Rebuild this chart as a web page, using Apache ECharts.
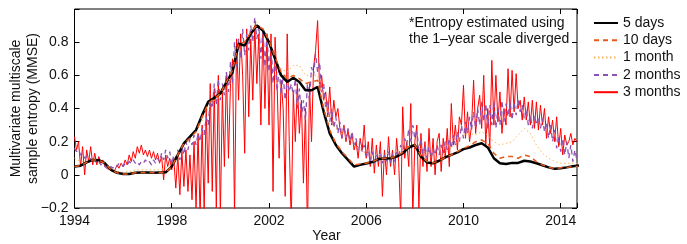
<!DOCTYPE html>
<html>
<head>
<meta charset="utf-8">
<script src="https://cdn.jsdelivr.net/npm/echarts@6/dist/echarts.min.js"></script>
<style>
  html, body { margin: 0; padding: 0; background: #fff; }
  #main { width: 687px; height: 244px; }
</style>
</head>
<body>
<div id="main"></div>
<script>
// quarterly samples for the smooth scales, monthly for the noisy ones
var QSTART = 1994, QSTEP = 0.25;
var MSTART = 1994, MSTEP = 1 / 12;

var fiveDays = [
  0.05, 0.055, 0.075, 0.09, 0.088, 0.07, 0.03, 0.012,
  0.005, 0.005, 0.012, 0.014, 0.014, 0.013, 0.014, 0.015,
  0.05, 0.12, 0.19, 0.23, 0.27, 0.36, 0.44, 0.465,
  0.49, 0.56, 0.62, 0.79, 0.78, 0.85, 0.90, 0.87,
  0.80, 0.70, 0.60, 0.56, 0.585, 0.56, 0.51, 0.51,
  0.53, 0.38, 0.25, 0.18, 0.13, 0.09, 0.05, 0.06,
  0.068, 0.077, 0.095, 0.098, 0.10, 0.11, 0.13, 0.165,
  0.18, 0.11, 0.075, 0.07, 0.085, 0.105, 0.12, 0.135,
  0.155, 0.165, 0.18, 0.19, 0.165, 0.10, 0.07, 0.065,
  0.072, 0.072, 0.085, 0.08, 0.07, 0.058, 0.045, 0.036,
  0.04, 0.045, 0.052, 0.056
];
var tenDays = [
  0.05, 0.055, 0.075, 0.09, 0.088, 0.07, 0.03, 0.012,
  0.005, 0.005, 0.012, 0.014, 0.014, 0.013, 0.014, 0.015,
  0.05, 0.12, 0.19, 0.22, 0.26, 0.35, 0.43, 0.46,
  0.49, 0.56, 0.63, 0.79, 0.80, 0.86, 0.90, 0.88,
  0.81, 0.71, 0.62, 0.58, 0.60, 0.58, 0.55, 0.56,
  0.57, 0.40, 0.27, 0.19, 0.14, 0.10, 0.06, 0.065,
  0.07, 0.08, 0.095, 0.10, 0.10, 0.115, 0.135, 0.17,
  0.18, 0.115, 0.08, 0.072, 0.085, 0.105, 0.12, 0.14,
  0.16, 0.175, 0.20, 0.21, 0.19, 0.13, 0.10, 0.11,
  0.11, 0.10, 0.12, 0.11, 0.08, 0.06, 0.045, 0.038,
  0.042, 0.045, 0.05, 0.05
];
var oneMonth = [
  0.10, 0.08, 0.08, 0.09, 0.09, 0.07, 0.04, 0.02,
  0.015, 0.02, 0.03, 0.03, 0.03, 0.03, 0.03, 0.04,
  0.07, 0.12, 0.18, 0.22, 0.26, 0.33, 0.40, 0.45,
  0.47, 0.55, 0.65, 0.78, 0.80, 0.88, 0.92, 0.86,
  0.78, 0.70, 0.64, 0.62, 0.66, 0.66, 0.60, 0.60,
  0.60, 0.45, 0.33, 0.28, 0.25, 0.22, 0.18, 0.15,
  0.13, 0.12, 0.12, 0.13, 0.13, 0.14, 0.17, 0.20,
  0.22, 0.16, 0.12, 0.10, 0.11, 0.13, 0.16, 0.20,
  0.24, 0.25, 0.24, 0.26, 0.24, 0.20, 0.18, 0.19,
  0.20, 0.24, 0.28, 0.25, 0.18, 0.13, 0.10, 0.08,
  0.07, 0.07, 0.07, 0.07
];
var twoMonths = [
  0.16, 0.14, 0.15, 0.12, 0.13, 0.10, 0.11, 0.08, 0.10, 0.08, 0.09, 0.07,
  0.08, 0.06, 0.07, 0.05, 0.04, 0.03, 0.05, 0.04, 0.06, 0.05, 0.07, 0.06,
  0.05, 0.07, 0.06, 0.08, 0.07, 0.09, 0.07, 0.08, 0.06, 0.08, 0.07, 0.09,
  0.07, 0.08, 0.06, 0.09, 0.07, 0.10, 0.08, 0.13, 0.09, 0.15, 0.10, 0.14,
  0.06, 0.12, 0.10, 0.15, 0.09, 0.17, 0.12, 0.20, 0.15, 0.22, 0.18, 0.24,
  0.18, 0.25, 0.20, 0.28, 0.24, 0.35, 0.30, 0.45, 0.40, 0.55, 0.42, 0.58,
  0.45, 0.55, 0.48, 0.62, 0.50, 0.68, 0.55, 0.80, 0.65, 0.82, 0.70, 0.88,
  0.72, 0.85, 0.75, 0.90, 0.80, 0.95, 0.82, 0.90, 0.70, 0.88, 0.65, 0.85,
  0.62, 0.80, 0.55, 0.72, 0.50, 0.65, 0.48, 0.60, 0.45, 0.58, 0.50, 0.55,
  0.48, 0.58, 0.40, 0.52, 0.35, 0.45, 0.33, 0.55, 0.45, 0.65, 0.60, 0.73,
  0.62, 0.68, 0.50, 0.55, 0.40, 0.45, 0.32, 0.40, 0.28, 0.35, 0.25, 0.32,
  0.22, 0.30, 0.22, 0.28, 0.20, 0.26, 0.18, 0.22, 0.15, 0.20, 0.14, 0.18,
  0.10, 0.15, 0.08, 0.14, 0.07, 0.12, 0.08, 0.13, 0.07, 0.12, 0.08, 0.14,
  0.07, 0.13, 0.08, 0.15, 0.10, 0.18, 0.12, 0.22, 0.18, 0.28, 0.20, 0.30,
  0.22, 0.26, 0.15, 0.22, 0.12, 0.18, 0.10, 0.17, 0.10, 0.16, 0.12, 0.18,
  0.12, 0.18, 0.13, 0.20, 0.15, 0.22, 0.16, 0.24, 0.18, 0.26, 0.20, 0.30,
  0.22, 0.32, 0.25, 0.35, 0.27, 0.38, 0.28, 0.40, 0.30, 0.44, 0.32, 0.43,
  0.28, 0.42, 0.30, 0.44, 0.28, 0.40, 0.30, 0.45, 0.32, 0.43, 0.35, 0.45,
  0.33, 0.44, 0.36, 0.45, 0.38, 0.42, 0.34, 0.40, 0.30, 0.36, 0.28, 0.36,
  0.30, 0.35, 0.28, 0.34, 0.26, 0.32, 0.22, 0.30, 0.20, 0.27, 0.16, 0.23,
  0.14, 0.22, 0.12, 0.20, 0.10, 0.18, 0.08, 0.15, 0.09
];
var threeMonths = [
  0.23, 0.15, 0.20, 0.05, 0.17, 0.00, 0.15, 0.08, 0.17, 0.06, 0.13, 0.06,
  0.11, 0.07, 0.09, 0.05, 0.06, 0.03, 0.04, 0.02, 0.03, 0.06, 0.04, 0.07,
  0.05, 0.09, 0.06, 0.12, 0.08, 0.14, 0.10, 0.17, 0.13, 0.18, 0.12, 0.15,
  0.11, 0.15, 0.10, 0.14, 0.09, 0.13, 0.07, 0.11, -0.03, 0.12, 0.05, 0.10,
  0.03, 0.10, -0.08, 0.12, -0.12, 0.14, -0.07, 0.15, -0.10, 0.12, -0.15, 0.20,
  -0.20, 0.25, -0.25, 0.30, -0.22, 0.40, -0.05, 0.55, -0.10, 0.52, -0.20, 0.60,
  -0.25, 0.50, 0.05, 0.62, 0.10, 0.55, 0.70, -0.25, 0.82, 0.45, 0.85, 0.60,
  0.13, 0.88, 0.35, 0.82, 0.45, 0.90, 0.55, 0.85, 0.30, 0.88, 0.40, 0.85,
  0.30, 0.85, -0.10, 0.83, 0.55, 0.10, 0.57, 0.40, -0.13, 0.85, 0.20, -0.30,
  0.50, 0.20, 0.55, 0.25, 0.45, -0.05, 0.40, -0.35, 0.55, 0.20, 0.65, 0.75,
  0.93, 0.50, 0.60, 0.45, 0.50, 0.35, 0.53, 0.30, 0.45, 0.35, 0.40, 0.28,
  0.22, 0.30, 0.20, 0.27, 0.18, 0.25, 0.15, 0.20, 0.10, 0.22, 0.15, 0.30,
  0.10, 0.20, 0.05, 0.22, 0.01, 0.18, 0.05, 0.20, -0.13, 0.15, 0.00, 0.23,
  0.05, 0.15, 0.00, 0.22, 0.08, -0.25, 0.41, 0.10, 0.20, 0.05, 0.43, -0.25,
  0.20, 0.30, -0.20, 0.25, 0.05, 0.20, 0.02, 0.28, 0.05, 0.22, 0.00, 0.20,
  0.25, 0.02, 0.22, 0.10, 0.28, 0.05, 0.43, 0.18, 0.30, 0.15, 0.35, 0.30,
  0.54, 0.22, 0.38, 0.20, 0.30, 0.57, 0.25, 0.40, 0.48, 0.28, 0.60, 0.18,
  0.40, 0.16, 0.69, 0.30, 0.60, 0.32, 0.50, 0.25, 0.40, 0.30, 0.64, 0.35,
  0.63, 0.38, 0.61, 0.40, 0.45, 0.33, 0.47, 0.33, 0.44, 0.30, 0.45, 0.28,
  0.44, 0.27, 0.42, 0.30, 0.40, 0.22, 0.35, 0.25, 0.33, 0.20, 0.35, 0.17,
  0.28, 0.12, 0.24, 0.18, 0.20, 0.25, 0.18, 0.22, 0.20
];

var names = ['5 days', '10 days', '1 month', '2 months', '3 months'];
var noteLines = ['*Entropy estimated using', 'the 1\u2013year scale diverged'];
var yTitle = ['Multivariate multiscale', 'sample entropy (MMSE)'];

var X_MIN = 1994, X_MAX = 2014.67;
var FONT = '"Liberation Sans", Arial, sans-serif';

function pairs(vals, start, step) {
  var out = [];
  for (var i = 0; i < vals.length; i++) {
    out.push([start + i * step, vals[i]]);
  }
  return out;
}

function lineSeries(name, data, color, width, type, z) {
  return {
    name: name,
    type: 'line',
    data: data,
    symbol: 'none',
    z: z,
    animation: false,
    lineStyle: { color: color, width: width, type: type },
    itemStyle: { color: color }
  };
}

var myChart = echarts.init(document.getElementById('main'));

var tickStyle = { show: true, inside: true, length: 5, lineStyle: { color: '#000', width: 1 } };
var noLine = { show: false, onZero: false };

myChart.setOption({
  backgroundColor: '#fff',
  textStyle: { fontFamily: FONT },
  grid: {
    left: 74.5, right: 110, top: 9, bottom: 36,
    show: true, borderColor: '#000', borderWidth: 1, backgroundColor: 'transparent'
  },
  legend: {
    data: names,
    orient: 'vertical',
    left: 588,
    top: 11,
    itemWidth: 24,
    itemHeight: 14,
    itemGap: 3.3,
    itemStyle: { opacity: 0 },
    textStyle: { fontSize: 14, color: '#111', fontFamily: FONT }
  },
  xAxis: [
    {
      type: 'value', min: X_MIN, max: X_MAX, interval: 4,
      axisLine: noLine,
      axisTick: tickStyle,
      splitLine: { show: false },
      axisLabel: {
        fontSize: 14, color: '#111', margin: 6,
        formatter: function (v) {
          var d = v - 1994;
          return Math.abs(d / 4 - Math.round(d / 4)) < 1e-6 ? String(Math.round(v)) : '';
        }
      }
    },
    {
      type: 'value', min: X_MIN, max: X_MAX, interval: 4, position: 'top',
      axisLine: noLine,
      axisTick: tickStyle,
      splitLine: { show: false },
      axisLabel: { show: false }
    }
  ],
  yAxis: [
    {
      type: 'value', min: -0.2, max: 1.0, interval: 0.2,
      axisLine: noLine,
      axisTick: tickStyle,
      splitLine: { show: false },
      axisLabel: {
        fontSize: 14, color: '#111', margin: 6,
        formatter: function (v) {
          var r = Math.round(v * 10) / 10;
          if (r >= 1) return '';
          if (r === 0) return '0';
          return r < 0 ? '\u2212' + (-r).toFixed(1) : r.toFixed(1);
        }
      }
    },
    {
      type: 'value', min: -0.2, max: 1.0, interval: 0.2, position: 'right',
      axisLine: noLine,
      axisTick: tickStyle,
      splitLine: { show: false },
      axisLabel: { show: false }
    }
  ],
  graphic: [
    {
      type: 'text', left: 409, top: 16, z: 100,
      style: { text: noteLines[0], fill: '#111', font: '14px ' + FONT }
    },
    {
      type: 'text', left: 409, top: 32.5, z: 100,
      style: { text: noteLines[1], fill: '#111', font: '14px ' + FONT }
    },
    {
      type: 'text', x: 16.5, y: 108.5, rotation: Math.PI / 2, z: 100,
      style: { text: yTitle[0], fill: '#111', font: '14px ' + FONT, align: 'center', verticalAlign: 'middle' }
    },
    {
      type: 'text', x: 33.5, y: 108.5, rotation: Math.PI / 2, z: 100,
      style: { text: yTitle[1], fill: '#111', font: '14px ' + FONT, align: 'center', verticalAlign: 'middle' }
    },
    {
      type: 'text', x: 326.5, y: 236, z: 100,
      style: { text: 'Year', fill: '#111', font: '14px ' + FONT, align: 'center', verticalAlign: 'middle' }
    }
  ],
  series: [
    lineSeries(names[0], pairs(fiveDays, QSTART, QSTEP), '#000000', 2.5, 'solid', 6),
    lineSeries(names[1], pairs(tenDays, QSTART, QSTEP), '#e8591a', 1.5, [5, 4], 7),
    lineSeries(names[2], pairs(oneMonth, QSTART, QSTEP), '#f7b860', 1, [1.5, 2.5], 5),
    lineSeries(names[3], pairs(twoMonths, MSTART, MSTEP), '#8e52b3', 1.3, [5, 4], 4),
    lineSeries(names[4], pairs(threeMonths, MSTART, MSTEP), '#ff0000', 1, 'solid', 3)
  ]
});
</script>
</body>
</html>
